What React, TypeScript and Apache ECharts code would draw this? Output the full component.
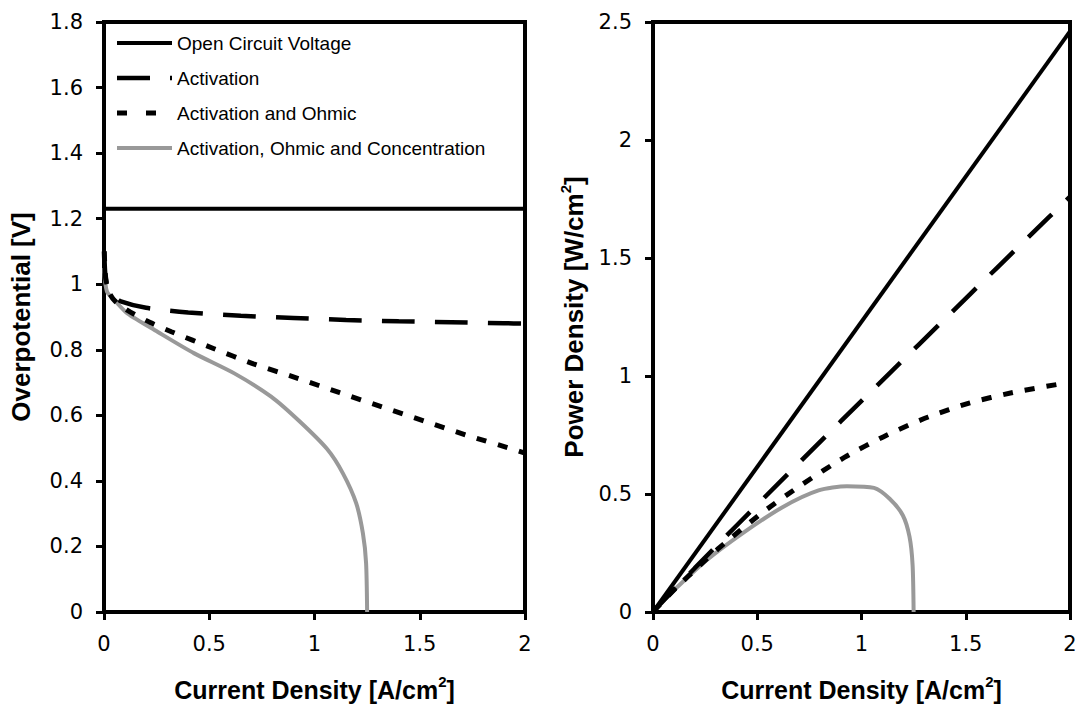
import React, { useEffect, useRef } from "react";
import * as echarts from "echarts";

// ---- Data ----
const seriesNames = [
  "Open Circuit Voltage",
  "Activation",
  "Activation and Ohmic",
  "Activation, Ohmic and Concentration",
];

// Open circuit voltage
const ocvI = [0, 2];
const ocvV = [1.23, 1.23];
const ocvP = [0, 2.46];

// Activation losses
const actI = [0.001, 0.005, 0.01, 0.02, 0.05, 0.08, 0.2, 0.4, 0.65, 0.9, 1.15, 1.4, 1.65, 1.9, 2.0];
const actV = [1.1, 1.04, 1.01, 0.985, 0.962, 0.948, 0.928, 0.914, 0.904, 0.897, 0.891, 0.887, 0.884, 0.881, 0.88];
const actP = [0.0011, 0.0052, 0.0101, 0.0197, 0.0481, 0.0758, 0.1856, 0.3656, 0.5876, 0.8073, 1.0247, 1.2418, 1.4586, 1.6739, 1.76];

// Activation and ohmic losses
const ohmI = [0.001, 0.005, 0.01, 0.02, 0.05, 0.11, 0.22, 0.32, 0.52, 0.71, 0.92, 1.12, 1.32, 1.52, 1.72, 1.94, 2.0];
const ohmV = [1.1, 1.04, 1.01, 0.98, 0.95, 0.921, 0.883, 0.855, 0.804, 0.757, 0.713, 0.669, 0.626, 0.583, 0.54, 0.497, 0.485];
const ohmP = [0.0011, 0.0052, 0.0101, 0.0196, 0.0475, 0.1013, 0.1943, 0.2736, 0.4181, 0.5375, 0.656, 0.7493, 0.8263, 0.8862, 0.9288, 0.9642, 0.97];

// Activation, ohmic and concentration losses
const conI = [0.001, 0.005, 0.016, 0.056, 0.111, 0.254, 0.429, 0.619, 0.794, 0.93, 1.06, 1.135, 1.198, 1.23, 1.245, 1.25];
const conV = [1.05, 1.01, 0.975, 0.947, 0.911, 0.855, 0.789, 0.728, 0.657, 0.581, 0.497, 0.423, 0.332, 0.24, 0.15, 0.0];
const conP = [0.001, 0.005, 0.0156, 0.053, 0.101, 0.217, 0.333, 0.443, 0.515, 0.533, 0.526, 0.48, 0.41, 0.32, 0.2, 0.0];

const pairs = (xs: number[], ys: number[]) => xs.map((x, k) => [x, ys[k]]);

const FONT = "'Liberation Sans', Arial, sans-serif";
const TICK_FONT = "'DejaVu Sans', sans-serif";

const styles = [
  { color: "#000000", width: 4, type: "solid" as any, legendDash: null as any, smooth: false as any },
  { color: "#000000", width: 4.5, type: [33, 20] as any, legendDash: [33, 20], smooth: 0.25 },
  { color: "#000000", width: 5, type: [10, 12] as any, legendDash: [10, 19], smooth: 0.25 },
  { color: "#999999", width: 4, type: "solid" as any, legendDash: null as any, smooth: 0.25 },
];

const supStyle = {
  fontFamily: FONT,
  fontWeight: "bold",
  fontSize: 15,
  color: "#000",
  verticalAlign: "top",
  padding: [0, 0, 16, 0],
};

function makeX(gridIndex: number) {
  return {
    type: "value",
    gridIndex,
    min: 0,
    max: 2,
    interval: 0.5,
    name: "Current Density [A/cm{sup|2}]",
    nameLocation: "middle",
    nameGap: 62,
    nameTextStyle: {
      fontFamily: FONT,
      fontWeight: "bold",
      fontSize: 25,
      color: "#000",
      rich: { sup: supStyle },
    },
    axisLine: { show: true, onZero: false, lineStyle: { color: "#000", width: 4 } },
    axisTick: { show: true, inside: false, length: 8, lineStyle: { color: "#000", width: 3 } },
    axisLabel: { fontFamily: TICK_FONT, fontSize: 21, color: "#000", margin: 21 },
    splitLine: { show: false },
  };
}

function makeY(gridIndex: number, max: number, interval: number, name: string, nameGap: number) {
  return {
    type: "value",
    gridIndex,
    min: 0,
    max,
    interval,
    name,
    nameLocation: "middle",
    nameGap,
    nameTextStyle: {
      fontFamily: FONT,
      fontWeight: "bold",
      fontSize: 26,
      color: "#000",
      rich: { sup: supStyle },
    },
    axisLine: { show: true, onZero: false, lineStyle: { color: "#000", width: 4 } },
    axisTick: { show: true, inside: false, length: 8, lineStyle: { color: "#000", width: 3 } },
    axisLabel: { fontFamily: TICK_FONT, fontSize: 21, color: "#000", margin: 21 },
    splitLine: { show: false },
  };
}

function lineSeries(name: string, idx: number, data: number[][], axis: number) {
  const s = styles[idx];
  return {
    type: "line",
    name,
    xAxisIndex: axis,
    yAxisIndex: axis,
    data,
    symbol: "none",
    smooth: s.smooth,
    z: 10 - idx,
    lineStyle: { color: s.color, width: s.width, type: s.type },
    itemStyle: { color: s.color },
  };
}

// legend drawn as graphic elements (line sample + label)
const legendRows = [43, 78, 113, 148];

function legendGraphic() {
  const els: any[] = [];
  seriesNames.forEach((name, k) => {
    const s = styles[k];
    const y = legendRows[k];
    els.push({
      type: "line",
      shape: { x1: 117, y1: y, x2: 172, y2: y },
      style: { stroke: s.color, lineWidth: s.width, lineDash: s.legendDash || undefined },
      z: 20,
    });
    els.push({
      type: "text",
      x: 177,
      y,
      style: {
        text: name,
        fontFamily: FONT,
        fontSize: 19,
        fill: "#000",
        verticalAlign: "middle",
        align: "left",
      },
      z: 20,
    });
  });
  return els;
}

export default function App() {
  const ref = useRef<HTMLDivElement>(null);
  useEffect(() => {
    if (!ref.current) return;
    const chart = echarts.init(ref.current, null, { renderer: "svg" });
    chart.setOption({
      animation: false,
      backgroundColor: "#ffffff",
      grid: [
        { left: 104, top: 22, width: 421, height: 590, show: true, borderColor: "#000", borderWidth: 4, containLabel: false },
        { left: 653, top: 22, width: 417, height: 590, show: true, borderColor: "#000", borderWidth: 4, containLabel: false },
      ],
      xAxis: [makeX(0), makeX(1)],
      yAxis: [
        makeY(0, 1.8, 0.2, "Overpotential [V]", 70),
        makeY(1, 2.5, 0.5, "Power Density [W/cm{sup|2}]", 64),
      ],
      graphic: legendGraphic(),
      series: [
        lineSeries(seriesNames[0], 0, pairs(ocvI, ocvV), 0),
        lineSeries(seriesNames[1], 1, pairs(actI, actV), 0),
        lineSeries(seriesNames[2], 2, pairs(ohmI, ohmV), 0),
        lineSeries(seriesNames[3], 3, pairs(conI, conV), 0),
        lineSeries(seriesNames[0], 0, pairs(ocvI, ocvP), 1),
        lineSeries(seriesNames[1], 1, pairs(actI, actP), 1),
        lineSeries(seriesNames[2], 2, pairs(ohmI, ohmP), 1),
        lineSeries(seriesNames[3], 3, pairs(conI, conP), 1),
      ],
    });
    return () => chart.dispose();
  }, []);
  return <div ref={ref} style={{ width: 1086, height: 717, position: "absolute", left: 0, top: 0 }} />;
}
